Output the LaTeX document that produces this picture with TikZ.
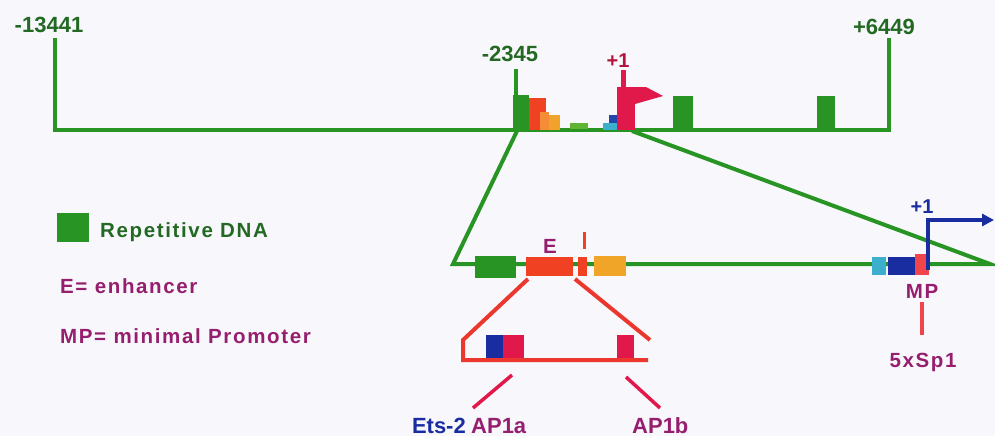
\documentclass[tikz,border=0pt]{standalone}
\usepackage{fontspec}
\setmainfont{Liberation Sans}
\newfontfamily\legfont{Liberation Sans}[LetterSpace=8]
\usetikzlibrary{arrows.meta}
\definecolor{dnagreen}{RGB}{40,148,35}
\definecolor{txtgreen}{RGB}{35,105,35}
\definecolor{purp}{RGB}{150,30,110}
\definecolor{lred}{RGB}{235,55,45}
\definecolor{pinkred}{RGB}{225,25,75}
\definecolor{orred}{RGB}{240,65,35}
\definecolor{orng}{RGB}{240,165,40}
\definecolor{lorng}{RGB}{245,140,55}
\definecolor{dblue}{RGB}{25,45,160}
\definecolor{cyanb}{RGB}{60,175,205}
\definecolor{lgreen}{RGB}{95,180,50}
\definecolor{coral}{RGB}{240,70,75}
\definecolor{bgc}{RGB}{248,248,252}
\tikzset{
  gline/.style={draw=dnagreen, line width=4pt, line join=miter},
  rline/.style={draw=lred, line width=4pt},
  barrow/.style={draw=dblue, line width=4pt, -{Triangle[length=12pt,width=12pt]}},
  numlab/.style={font=\fontsize{22}{24}\selectfont\bfseries, text=txtgreen, anchor=base, inner sep=0pt},
  leg/.style={font=\legfont\fontsize{20.5}{24}\selectfont\bfseries, anchor=base west, inner sep=0pt},
  lab/.style={font=\legfont\fontsize{20.5}{24}\selectfont\bfseries, anchor=base, inner sep=0pt},
  botlab/.style={font=\fontsize{22}{24}\selectfont\bfseries, inner sep=0pt, text depth=0pt},
}
\begin{document}
\begin{tikzpicture}[x=1pt,y=-1pt]
\fill[bgc] (0,0) rectangle (995,436);
\useasboundingbox (0,0) rectangle (995,436);

% coordinates of the map
\coordinate (tl) at (55,38);
\coordinate (bl) at (55,130);
\coordinate (br) at (889,130);
\coordinate (tr) at (889,38);
\coordinate (zl) at (517,131);
\coordinate (zr) at (632,131);
\coordinate (ll) at (453,264);
\coordinate (lr) at (990,264);

% zoom lines (behind)
\draw[gline] (zl) -- (ll) -- (lr) -- (zr);
% top line
\draw[gline] (tl) -- (bl) -- (br) -- (tr);

% top blocks
\fill[dnagreen] (513.5,69) rectangle (517.5,96);
\fill[dnagreen] (513,95) rectangle (529,130);
\fill[orred] (529,98) rectangle (546,130);
\fill[lorng] (540,112) rectangle (549,130);
\fill[orng!90!lorng] (549,115) rectangle (560,130);
\fill[lgreen] (570,123) rectangle (588,129);
\fill[cyanb] (603,123) rectangle (621,130);
\fill[dblue!80!cyanb] (609,115) rectangle (617,123);
\fill[pinkred] (621,70) rectangle (626,130);
\fill[pinkred] (617,87) rectangle (635,130);
\fill[pinkred] (625,87) -- (646,87) -- (663,96) -- (635,104) -- (625,104) -- cycle;
\fill[dnagreen] (673,96) rectangle (693,130);
\fill[dnagreen] (817,96) rectangle (835,130);

% top labels
\node[numlab] (n13441) at (49,33) {-13441};
\node[numlab] (n6449) at (884,35) {+6449};
\node[numlab] (n2345) at (510,62) {-2345};
\node[numlab, text=pinkred!80!black, font=\fontsize{20}{22}\selectfont\bfseries] (p1a) at (618,67) {+1};

% lower line blocks
\fill[dnagreen] (475,256) rectangle (516,278);
\fill[orred] (526,257) rectangle (573,276);
\fill[orred] (578,257) rectangle (587,276);
\draw[draw=orred, line width=3.5pt] (584.5,232) -- (584.5,249);
\fill[orng] (594,256) rectangle (626,276);
\node[lab, text=purp] (E) at (550,253) {E};

% right promoter region
\fill[cyanb] (872,257) rectangle (886,275);
\fill[dblue] (888,257) rectangle (915,275);
\fill[coral] (915,254) rectangle (929,275);
\coordinate (a0) at (928,270);
\coordinate (a1) at (928,220);
\coordinate (a2) at (994,220);
\draw[barrow] (a0) -- (a1) -- (a2);
\node[lab, text=dblue, font=\fontsize{20}{22}\selectfont\bfseries] (p1b) at (922,213) {+1};
\node[lab, text=purp] (MP) at (922,298) {MP};
\coordinate (mp1) at (922,302);
\coordinate (mp2) at (922,335);
\draw[draw=coral, line width=3.5pt] (mp1) -- (mp2);
\node[lab, text=purp] (sp1) at (923,367) {5xSp1};

% enhancer inset
\coordinate (e1) at (528,279);
\coordinate (e2) at (463,340);
\coordinate (e3) at (463,360);
\coordinate (e4) at (648,360);
\coordinate (e5) at (575,279);
\coordinate (e6) at (650,340);
\fill[dblue] (486,335) rectangle (503,358);
\fill[pinkred] (503,335) rectangle (524,358);
\fill[pinkred] (617,335) rectangle (634,358);
\draw[rline, line join=miter] (e1) -- (e2) -- (e3) -- (e4);
\draw[rline] (e5) -- (e6);
\coordinate (s1) at (512,375);
\coordinate (s2) at (473,408);
\coordinate (s3) at (626,377);
\coordinate (s4) at (660,408);
\draw[draw=pinkred, line width=3.5pt] (s1) -- (s2);
\draw[draw=pinkred, line width=3.5pt] (s3) -- (s4);
\node[botlab, anchor=base east, text=dblue] (ets) at (466,433) {Ets-2};
\node[botlab, anchor=base west, text=purp] (ap1a) at (471,433) {AP1a};
\node[botlab, anchor=base west, text=purp] (ap1b) at (632,433) {AP1b};

% legend
\fill[dnagreen] (57,213) rectangle (89,242);
\node[leg, text=txtgreen] (rep) at (100,237) {Repetitive DNA};
\node[leg, text=purp] (enh) at (60,293) {E= enhancer};
\node[leg, text=purp] (mpl) at (60,343) {MP= minimal Promoter};
\end{tikzpicture}
\end{document}
